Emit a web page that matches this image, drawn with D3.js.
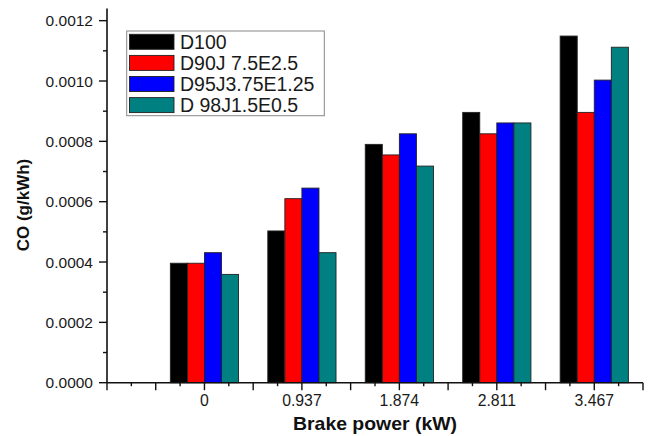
<!DOCTYPE html>
<html>
<head>
<meta charset="utf-8">
<script src="https://cdn.jsdelivr.net/npm/d3@7"></script>
<style>
  html, body { margin: 0; padding: 0; background: #fff; }
  svg { display: block; }
  text { font-family: "Liberation Sans", Arial, sans-serif; fill: #1a1a1a; }
</style>
</head>
<body>
<svg id="chart" width="649" height="436"></svg>
<script>
// ---- data ----
const categories = ["0", "0.937", "1.874", "2.811", "3.467"];
const seriesNames = ["D100", "D90J 7.5E2.5", "D95J3.75E1.25", "D 98J1.5E0.5"];
const seriesColors = ["#000000", "#ff0000", "#0000ff", "#008080"];
const D100 = [0.000396, 0.000503, 0.000790, 0.000896, 0.001149];
const D90J = [0.000396, 0.000610, 0.000755, 0.000825, 0.000896];
const D95J = [0.000431, 0.000645, 0.000825, 0.000861, 0.001003];
const D98J = [0.000359, 0.000431, 0.000718, 0.000861, 0.001112];
const yTickValues = [0, 0.0002, 0.0004, 0.0006, 0.0008, 0.0010, 0.0012];
const xTitle = "Brake power (kW)";
const yTitle = "CO (g/kWh)";

const seriesValues = [D100, D90J, D95J, D98J];

const svg = d3.select("#chart");
const pL = 107, pR = 643, pT = 8.6, pB = 382.7;

const x = d3.scaleLinear().domain([-1, 4.5]).range([pL, pR]);
const y = d3.scaleLinear().domain([0, 0.00124]).range([pB, pT]);

const barW = x(0.175) - x(0);

// bars
const g = svg.append("g");
categories.forEach((c, i) => {
  seriesValues.forEach((vals, j) => {
    const x0 = x(i) - 2 * barW + j * barW;
    g.append("rect")
      .attr("x", x0)
      .attr("y", y(vals[i]))
      .attr("width", barW)
      .attr("height", y(0) - y(vals[i]))
      .attr("fill", seriesColors[j])
      .attr("stroke", "#222")
      .attr("stroke-width", 0.9);
  });
});

// Y axis
const yAxis = svg.append("g");
yAxis.append("line").attr("x1", pL).attr("x2", pL).attr("y1", pT).attr("y2", pB)
  .attr("stroke", "#111").attr("stroke-width", 1.6);
d3.range(0, 0.00121, 0.0001).forEach(v => {
  const isMajor = Math.abs(Math.round(v / 0.0002) * 0.0002 - v) < 1e-9;
  yAxis.append("line").attr("x1", pL).attr("x2", pL - (isMajor ? 8 : 4))
    .attr("y1", y(v)).attr("y2", y(v)).attr("stroke", "#111").attr("stroke-width", 1.4);
});
yTickValues.forEach(v => {
  yAxis.append("text").attr("x", 93).attr("y", y(v)).attr("dy", "0.36em")
    .attr("text-anchor", "end").style("font-size", "15.5px")
    .text(d3.format(".4f")(v));
});

// X axis
const xAxis = svg.append("g");
xAxis.append("line").attr("x1", pL).attr("x2", pR).attr("y1", pB).attr("y2", pB)
  .attr("stroke", "#111").attr("stroke-width", 1.6);
d3.range(-1, 4.51, 0.25).forEach(v => {
  const isMajor = Math.abs(Math.round(v * 2) / 2 - v) < 1e-9;
  xAxis.append("line").attr("x1", x(v)).attr("x2", x(v))
    .attr("y1", pB).attr("y2", pB + (isMajor ? 7.5 : 3.5))
    .attr("stroke", "#111").attr("stroke-width", 1.4);
});
categories.forEach((c, i) => {
  xAxis.append("text").attr("x", x(i)).attr("y", 405.5)
    .attr("text-anchor", "middle").style("font-size", "15.8px").text(c);
});

// titles
svg.append("text").attr("x", (pL + pR) / 2).attr("y", 429.5)
  .attr("text-anchor", "middle").style("font-size", "18.5px").style("font-weight", "bold")
  .attr("textLength", 164).attr("lengthAdjust", "spacingAndGlyphs")
  .style("fill", "#111").text(xTitle);
svg.append("text").attr("transform", "translate(29,205) rotate(-90)")
  .attr("text-anchor", "middle").style("font-size", "17px").style("font-weight", "bold")
  .style("fill", "#111").text(yTitle);

// legend
const lg = svg.append("g");
lg.append("rect").attr("x", 126.7).attr("y", 31).attr("width", 197.6).attr("height", 84.7)
  .attr("fill", "#fff").attr("stroke", "#888").attr("stroke-width", 1);
seriesNames.forEach((n, j) => {
  const ry = 34.3 + j * 21.1;
  lg.append("rect").attr("x", 129.5).attr("y", ry).attr("width", 44.5).attr("height", 15)
    .attr("fill", seriesColors[j]).attr("stroke", "#222").attr("stroke-width", 0.9);
  lg.append("text").attr("x", 180).attr("y", ry + 14.2)
    .style("font-size", "19.5px").text(n);
});
</script>
</body>
</html>
